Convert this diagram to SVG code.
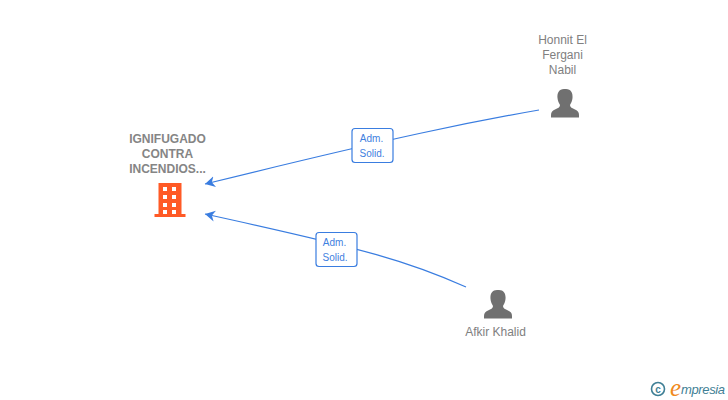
<svg xmlns="http://www.w3.org/2000/svg" width="728" height="400" viewBox="0 0 728 400">
<style>
text{font-family:"Liberation Sans",Arial,sans-serif}
.n{font-size:12px;fill:#808080;text-anchor:middle}
.b{font-weight:bold;fill:#858585}
.l{font-size:10px;fill:#3f80e0;text-anchor:middle}
.box{fill:#fff;stroke:#3a7de0;stroke-width:1.200}
.c{fill:none;stroke:#3a7de0;stroke-width:1.200}
.p{fill:#707070}
</style>
<defs>
<marker id="a" markerUnits="userSpaceOnUse" markerWidth="12" markerHeight="14" refX="10" refY="6" orient="auto"><path d="M10 6L0 0.500L3 6L0 11.500Z" fill="#3a7de0"/></marker>
<g id="person"><path class="p" d="M-1 0C-6 0-8 4-7.500 9C-7.300 12-6 14-5 16C-5 18-6.500 19-9.500 20.300C-12.500 21.500-14 23-14 26V28.500H14V26C14 23 12.500 21.500 9.500 20.300C6.500 19 5 18 5 16C6 14 7.300 12 7.500 9C8 4 6 0 1 0Z"/></g>
</defs>
<g id="connectors">
<path class="c" marker-end="url(#a)" d="M539 110C470 122 400 136 205 184"/>
<path class="c" marker-end="url(#a)" d="M466 287C410 262 370 250 205 214"/>
</g>
<g id="edge-label-1"><rect class="box" x="352" y="128.500" width="41" height="34" rx="3"/><text class="l" x="371.500" y="142">Adm.</text><text class="l" x="372" y="157">Solid.</text></g>
<g id="edge-label-2"><rect class="box" x="316" y="232.500" width="41" height="34" rx="3"/><text class="l" x="334.500" y="246">Adm.</text><text class="l" x="335" y="261">Solid.</text></g>
<g id="company">
<text class="n b" x="167.500" y="143">IGNIFUGADO</text><text class="n b" x="167.500" y="158">CONTRA</text><text class="n b" x="167.500" y="173">INCENDIOS...</text>
<path fill="#ff5a26" fill-rule="evenodd" d="M158.500 183H181.500V214H185.500V217H154.500V214H158.500ZM163 187V191H167V187ZM172 187V191H176V187ZM163 195V199H167V195ZM172 195V199H176V195ZM163 203V207H167V203ZM172 203V207H176V203ZM163 210V214H167V210ZM172 210V214H176V210Z"/>
</g>
<g id="person-honnit">
<text class="n" x="562.500" y="44">Honnit El</text><text class="n" x="562.500" y="59">Fergani</text><text class="n" x="562.500" y="74">Nabil</text>
<use href="#person" x="565" y="89"/>
</g>
<g id="person-afkir">
<text class="n" x="495.500" y="336">Afkir Khalid</text>
<use href="#person" x="498" y="290"/>
</g>
<g id="logo">
<circle cx="658" cy="389" r="6.500" fill="none" stroke="#3f7f95" stroke-width="1.600"/>
<text x="658" y="392.500" font-size="10" font-weight="bold" fill="#3f7f95" text-anchor="middle">c</text>
<text x="670" y="396" font-size="25" font-style="italic" fill="#f08a1d" style="font-family:'Liberation Serif',serif">e</text>
<text x="681" y="394" font-size="13" font-style="italic" fill="#3f7f95" textLength="44" lengthAdjust="spacing">mpresia</text>
</g>
</svg>
